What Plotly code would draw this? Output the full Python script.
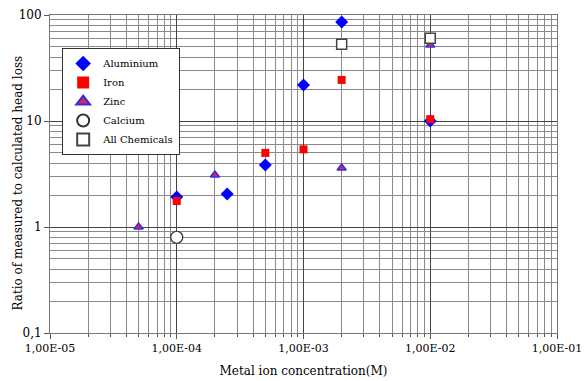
import plotly.graph_objects as go

# Data (concentration in M, ratio)
al_x = [1e-4, 2.5e-4, 5e-4, 1e-3, 2e-3, 1e-2]
al_y = [1.92, 2.05, 3.85, 21.8, 86, 10.0]
fe_x = [1e-4, 5e-4, 1e-3, 2e-3, 1e-2]
fe_y = [1.76, 5.0, 5.4, 24.4, 10.4]
zn_x = [5e-5, 2e-4, 2e-3, 1e-2]
zn_y = [1.0, 3.1, 3.6, 52]
ca_x = [1e-4]
ca_y = [0.8]
all_x = [2e-3, 1e-2]
all_y = [53, 60.5]

x_ticks = [1e-5, 1e-4, 1e-3, 1e-2, 1e-1]
x_labels = ["1,00E-05", "1,00E-04", "1,00E-03", "1,00E-02", "1,00E-01"]
y_ticks = [0.1, 1, 10, 100]
y_labels = ["0,1", "1", "10", "100"]

def minor_vals(lo_exp, hi_exp):
    vals = []
    for e in range(lo_exp, hi_exp):
        for m in range(2, 10):
            vals.append(m * 10 ** e)
    return vals

FONT = "DejaVu Serif"

fig = go.Figure()
fig.add_trace(go.Scatter(x=al_x, y=al_y, mode="markers", name="Aluminium",
                         marker=dict(symbol="diamond", size=10, color="#0000FF",
                                     line=dict(width=0))))
fig.add_trace(go.Scatter(x=fe_x, y=fe_y, mode="markers", name="Iron",
                         marker=dict(symbol="square", size=8, color="#FF0000",
                                     line=dict(width=0))))
fig.add_trace(go.Scatter(x=zn_x, y=zn_y, mode="markers", name="Zinc",
                         marker=dict(symbol="triangle-up", size=8, color="#E0205A",
                                     line=dict(width=1.5, color="#3030E0"))))
fig.add_trace(go.Scatter(x=ca_x, y=ca_y, mode="markers", name="Calcium",
                         marker=dict(symbol="circle", size=12, color="white",
                                     line=dict(width=1.2, color="#333333"))))
fig.add_trace(go.Scatter(x=all_x, y=all_y, mode="markers", name="All Chemicals",
                         marker=dict(symbol="square", size=10, color="white",
                                     line=dict(width=1.5, color="#444444"))))

fig.update_layout(
    width=584, height=381,
    margin=dict(l=50, r=27, t=15, b=48),
    paper_bgcolor="white", plot_bgcolor="white",
    font=dict(family=FONT, size=12, color="black"),
    showlegend=True,
    legend=dict(x=0.024, y=0.896, xanchor="left", yanchor="top",
                bgcolor="white", bordercolor="#333333", borderwidth=1,
                font=dict(family=FONT, size=10), tracegroupgap=0,
                itemwidth=30, itemsizing="constant"),
    annotations=[dict(text="Ratio of measured to calculated head loss",
                      xref="paper", yref="paper", x=-0.065, y=0.47,
                      xanchor="center", yanchor="middle", textangle=-90,
                      showarrow=False, font=dict(family=FONT, size=12))],
)
fig.update_xaxes(
    type="log", range=[-5, -1], automargin=False,
    tickmode="array", tickvals=x_ticks, ticktext=x_labels,
    ticks="outside", ticklen=5, tickcolor="#555555",
    ticklabeloverflow="allow",
    showgrid=True, gridcolor="#444444", gridwidth=1,
    minor=dict(tickmode="array", tickvals=minor_vals(-5, -1), showgrid=True,
               gridcolor="#8a8a8a", gridwidth=1, ticks="outside", ticklen=3,
               tickcolor="#555555"),
    showline=True, linecolor="#777777", mirror=True, zeroline=False,
    title=dict(text="Metal ion concentration(M)", font=dict(family=FONT, size=12), standoff=12),
    tickfont=dict(family=FONT, size=11),
)
fig.update_yaxes(
    type="log", range=[-1, 2], automargin=False,
    tickmode="array", tickvals=y_ticks, ticktext=y_labels,
    ticks="outside", ticklen=5, tickcolor="#555555",
    ticklabeloverflow="allow",
    showgrid=True, gridcolor="#444444", gridwidth=1,
    minor=dict(tickmode="array", tickvals=minor_vals(-1, 2), showgrid=True,
               gridcolor="#8a8a8a", gridwidth=1),
    showline=True, linecolor="#777777", mirror=True, zeroline=False,
    tickfont=dict(family=FONT, size=12),
)

fig.write_html("out.html", config={"displayModeBar": False},
               post_script="document.body.style.margin='0';document.body.style.overflow='hidden';")
